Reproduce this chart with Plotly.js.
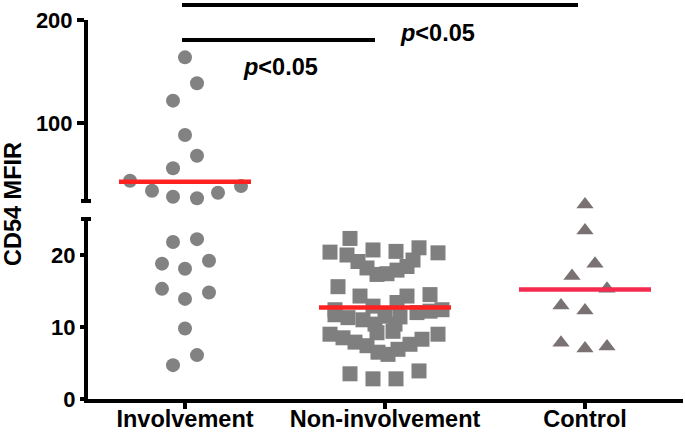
<!DOCTYPE html>
<html>
<head>
<meta charset="utf-8">
<script src="https://cdn.plot.ly/plotly-3.0.1.min.js"></script>
<style>html,body{margin:0;padding:0;background:#fff;}#chart{width:685px;height:433px;}</style>
</head>
<body>
<div id="chart"></div>
<script>
// ---- data ----
const categories = ['Involvement', 'Non-involvement', 'Control'];
const yTitle = 'CD54 MFIR';
const lowerTicks = [0, 10, 20];
const upperTicks = [100, 200];

const involvementValues = [163.9, 138.8, 122, 88.8, 68.8, 56.6, 44.6, 34.9, 29.1, 27.6, 33, 39.5,
  21.8, 22.2, 18.8, 18.1, 19.2, 15.3, 13.9, 14.8, 9.8, 6.1, 4.7];
const involvementSpread = [0, 0.06, -0.06, 0, 0.06, -0.06, -0.275, -0.165, -0.06, 0.06, 0.165, 0.28,
  -0.06, 0.06, -0.115, 0, 0.12, -0.115, 0, 0.12, 0, 0.06, -0.06];

const nonInvolvementValues = [22.3, 20.4, 20.7, 20.5, 21.0, 20.3,
  20.0, 19.1, 18.2, 17.3, 17.4, 17.9, 18.4, 19.3,
  15.6, 14.3, 14.3, 14.5, 13.4, 12.9, 12.4,
  11.7, 11.3, 11.0, 11.5, 12.0, 12.2, 12.4, 11.4,
  10.4, 10.4, 9.2, 9.4,
  9.0, 8.5, 7.9, 7.4, 6.5, 6.2, 6.9, 7.6, 8.3, 9.0,
  3.5, 2.8, 2.8, 3.9];
const nonInvolvementSpread = [-0.175, -0.275, -0.06, 0.055, 0.17, 0.265,
  -0.19, -0.135, -0.09, -0.04, 0.01, 0.06, 0.11, 0.14,
  -0.235, -0.125, 0.11, 0.225, 0.06, -0.06, -0.25,
  -0.25, -0.185, -0.11, 0.0, 0.16, 0.225, 0.285, 0.075,
  -0.05, 0.05, -0.04, 0.04,
  -0.275, -0.21, -0.15, -0.09, -0.035, 0.015, 0.065, 0.125, 0.185, 0.265,
  -0.175, -0.06, 0.055, 0.17];

const controlValues = [27.0, 23.4, 18.8, 17.1, 15.3, 13.0, 12.3, 7.8, 7.0, 7.3];
const controlSpread = [0, 0, 0.05, -0.065, 0.11, -0.12, 0, -0.12, 0, 0.11];

const groupMeans = [43.6, 12.7, 15.2];

const significance = [
  {from: 0, to: 1, label: 'p<0.05'},
  {from: 0, to: 2, label: 'p<0.05'}
];

// ---- geometry ----
const FONT = 'Liberation Sans, Arial, Helvetica, sans-serif';
const L = 88, R = 2, T = 20, B = 34, W = 685, H = 433;
const pw = W - L - R, ph = H - T - B;
const BASE = H - B;                  // pixel row of y = 0
const py = p => (BASE - p) / ph;     // pixel row -> paper y
const px = p => (p - L) / pw;        // pixel col -> paper x

// broken axis: lower segment 0-25 (rows 399..219), upper segment 25-200 (rows 201..20)
const LOW_MAX = 25;
const LOW_TOP_ROW = 219, UP_BOTTOM_ROW = 201;
const SPLIT = 27.3; // values up to this use the lower scale (reference draws ~27 just above the lower segment)
// lower scale occupies rows up to the upper segment's start so a value slightly above 25 is still visible;
// its visible axis line (0..25) is drawn as a shape
const lowerDomain = [0, py(UP_BOTTOM_ROW)];
const lowerRangeMax = LOW_MAX * (BASE - UP_BOTTOM_ROW) / (BASE - LOW_TOP_ROW);
const upperDomain = [py(UP_BOTTOM_ROW), 1];

const groups = [
  {vals: involvementValues, spread: involvementSpread, symbol: 'circle', size: 14, color: '#828282'},
  {vals: nonInvolvementValues, spread: nonInvolvementSpread, symbol: 'square', size: 15, color: '#7f7f7f'},
  {vals: controlValues, spread: controlSpread, symbol: 'triangle-up', size: 15, color: '#7a7173'}
];

const traces = [];
groups.forEach((g, i) => {
  const lo = {x: [], y: []}, hi = {x: [], y: []};
  g.vals.forEach((v, k) => {
    const t = v > SPLIT ? hi : lo;
    t.x.push(i + g.spread[k]);
    t.y.push(v);
  });
  [[lo, 'y'], [hi, 'y2']].forEach(([t, ax]) => {
    if (!t.x.length) return;
    traces.push({
      type: 'scatter', mode: 'markers', x: t.x, y: t.y, xaxis: 'x', yaxis: ax,
      cliponaxis: false, hoverinfo: 'skip',
      marker: {symbol: g.symbol, size: g.size, color: g.color, line: {width: 0}}
    });
  });
});

const meanColors = ['#ff2020', '#ff2020', '#f42a4e'];
groupMeans.forEach((m, i) => {
  traces.push({
    type: 'scatter', mode: 'lines', x: [i - 0.33, i + 0.33], y: [m, m],
    xaxis: 'x', yaxis: m > SPLIT ? 'y2' : 'y', cliponaxis: false, hoverinfo: 'skip',
    line: {color: meanColors[i], width: 4.5}
  });
});

const axisCommon = {
  showline: true, linewidth: 4, linecolor: '#000', showgrid: false, zeroline: false,
  ticks: 'outside', ticklen: 7, tickwidth: 4, tickcolor: '#000',
  tickfont: {family: FONT, size: 22, color: '#000', weight: 'bold'}, fixedrange: true
};

const shapes = [
  // lower segment axis line (0..25)
  {type: 'line', xref: 'paper', yref: 'paper', x0: px(86), x1: px(86), y0: py(BASE + 4), y1: py(LOW_TOP_ROW), line: {color: '#000', width: 4}},
  // break caps
  {type: 'line', xref: 'paper', yref: 'paper', x0: px(81), x1: px(91), y0: py(UP_BOTTOM_ROW), y1: py(UP_BOTTOM_ROW), line: {color: '#000', width: 4}},
  {type: 'line', xref: 'paper', yref: 'paper', x0: px(81), x1: px(91), y0: py(LOW_TOP_ROW), y1: py(LOW_TOP_ROW), line: {color: '#000', width: 4}}
];
const barRows = [40, 5];
const barEnds = [0.95, 1.965];
significance.forEach((s, k) => {
  shapes.push({type: 'line', xref: 'x', yref: 'paper', x0: s.from - 0.015, x1: barEnds[k],
    y0: py(barRows[k]), y1: py(barRows[k]), line: {color: '#000', width: 4}});
});

const labelPos = [{x: 0.475, y: py(67)}, {x: 1.26, y: py(33)}];
const annotations = significance.map((s, k) => ({
  xref: 'x', yref: 'paper', x: labelPos[k].x, y: labelPos[k].y, showarrow: false,
  xanchor: 'center', yanchor: 'middle',
  text: '<i>' + s.label.slice(0, 1) + '</i>' + s.label.slice(1).replace('<', '&lt;'),
  font: {family: FONT, size: 23.5, color: '#000', weight: 'bold'}
}));
annotations.push({
  xref: 'paper', yref: 'paper', x: px(13), y: py(204), showarrow: false, textangle: -90,
  xanchor: 'center', yanchor: 'middle', text: yTitle,
  font: {family: FONT, size: 23.5, color: '#000', weight: 'bold'}
});

const layout = {
  width: W, height: H, margin: {l: L, r: R, t: T, b: B, pad: 0},
  paper_bgcolor: '#fff', plot_bgcolor: 'rgba(0,0,0,0)', showlegend: false,
  font: {family: FONT, size: 22, color: '#000'},
  xaxis: Object.assign({}, axisCommon, {range: [-0.485, 2.49], tickvals: [0, 1, 2], ticktext: categories,
    anchor: 'y', ticklen: 6, ticklabelstandoff: -10,
    tickfont: {family: FONT, size: 23.5, color: '#000', weight: 'bold'}}),
  yaxis: Object.assign({}, axisCommon, {domain: lowerDomain, range: [0, lowerRangeMax], tickvals: lowerTicks,
    anchor: 'x', showline: false}),
  yaxis2: Object.assign({}, axisCommon, {domain: upperDomain, range: [LOW_MAX, 200], tickvals: upperTicks, anchor: 'x'}),
  shapes: shapes, annotations: annotations
};

Plotly.newPlot('chart', traces, layout, {displayModeBar: false, staticPlot: true});
</script>
</body>
</html>
